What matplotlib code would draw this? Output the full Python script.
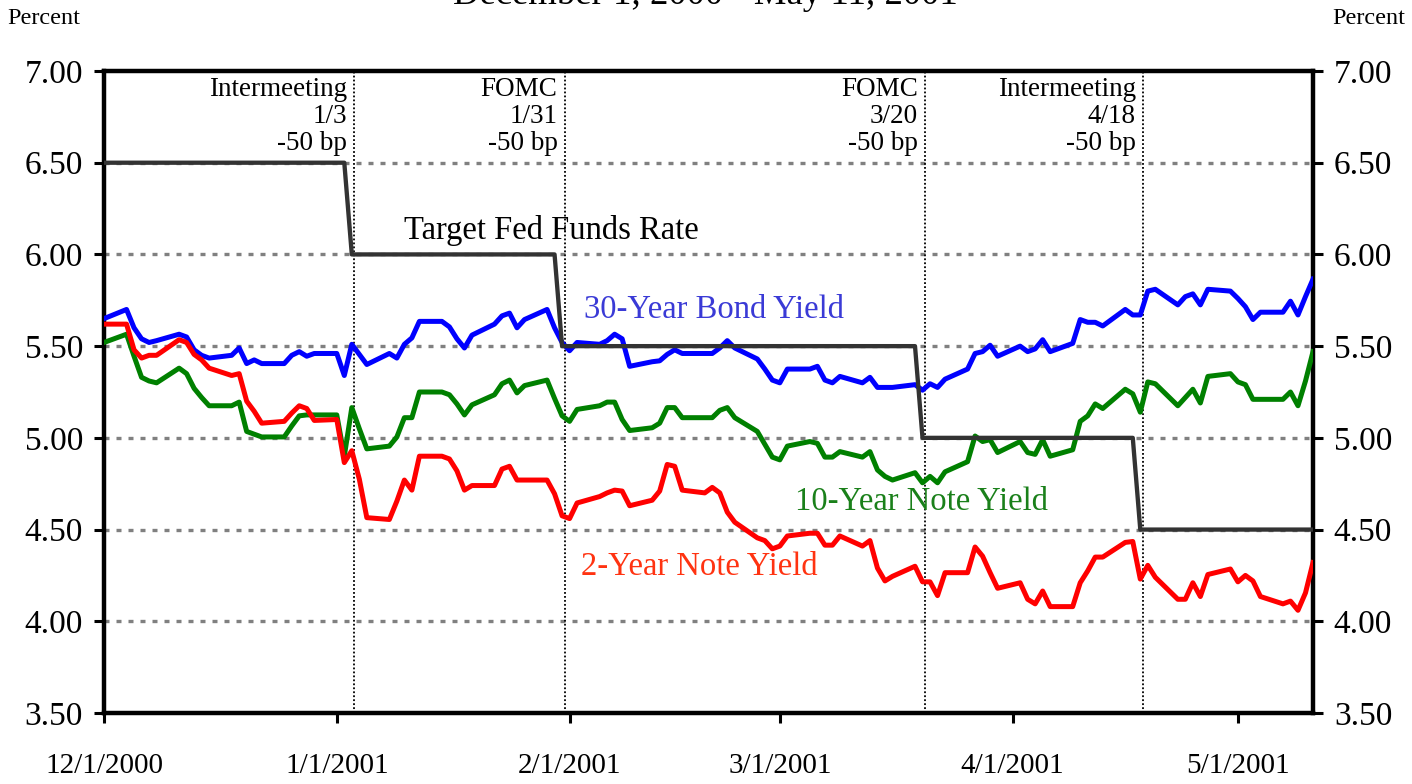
import numpy as np
import pandas as pd
import matplotlib
matplotlib.use('Agg')
import matplotlib.pyplot as plt
import matplotlib.dates as mdates

plt.rcParams['font.family'] = ['Liberation Serif', 'DejaVu Serif']

# trading days (holidays show as flat segments)
days = {
    (2000, 12): [1, 4, 5, 6, 7, 8, 11, 12, 13, 14, 15, 18, 19, 20, 21, 22, 25, 26, 27, 28, 29],
    (2001, 1): [1, 2, 3, 4, 5, 8, 9, 10, 11, 12, 15, 16, 17, 18, 19, 22, 23, 24, 25, 26, 29, 30, 31],
    (2001, 2): [1, 2, 5, 6, 7, 8, 9, 12, 13, 14, 15, 16, 19, 20, 21, 22, 23, 26, 27, 28],
    (2001, 3): [1, 2, 5, 6, 7, 8, 9, 12, 13, 14, 15, 16, 19, 20, 21, 22, 23, 26, 27, 28, 29, 30],
    (2001, 4): [2, 3, 4, 5, 6, 9, 10, 11, 12, 13, 16, 17, 18, 19, 20, 23, 24, 25, 26, 27, 30],
    (2001, 5): [1, 2, 3, 4, 7, 8, 9, 10, 11],
}
dates = [pd.Timestamp(y, m, d) for (y, m), dl in days.items() for d in dl]

bond30 = [5.65, 5.70, 5.60, 5.54, 5.52, 5.53, 5.565, 5.55, 5.48, 5.45, 5.435, 5.45, 5.49, 5.405, 5.425, 5.405, 5.405, 5.45, 5.47, 5.445, 5.46,
          5.46, 5.34, 5.51, 5.455, 5.40, 5.46, 5.435, 5.51, 5.545, 5.635, 5.635, 5.605, 5.54, 5.49, 5.56, 5.62, 5.665, 5.68, 5.60, 5.645, 5.70, 5.60, 5.52,
          5.475, 5.52, 5.51, 5.53, 5.565, 5.54, 5.39, 5.415, 5.42, 5.455, 5.48, 5.46, 5.46, 5.46, 5.49, 5.53, 5.49, 5.43, 5.375, 5.315,
          5.30, 5.375, 5.375, 5.39, 5.315, 5.30, 5.335, 5.30, 5.33, 5.275, 5.275, 5.275, 5.29, 5.26, 5.295, 5.275, 5.32, 5.375, 5.46, 5.47, 5.505, 5.445,
          5.50, 5.47, 5.485, 5.535, 5.47, 5.515, 5.645, 5.63, 5.63, 5.61, 5.70, 5.67, 5.67, 5.80, 5.81, 5.725, 5.77, 5.785, 5.725, 5.81, 5.80,
          5.76, 5.715, 5.645, 5.685, 5.685, 5.745, 5.67, 5.77, 5.865]

note10 = [5.52, 5.565, 5.445, 5.33, 5.31, 5.30, 5.38, 5.35, 5.27, 5.22, 5.175, 5.175, 5.195, 5.035, 5.02, 5.005, 5.005, 5.065, 5.12, 5.125, 5.125,
          5.125, 4.90, 5.165, 5.05, 4.94, 4.955, 5.005, 5.11, 5.11, 5.25, 5.25, 5.235, 5.185, 5.125, 5.18, 5.235, 5.295, 5.315, 5.245, 5.285, 5.315, 5.215, 5.12,
          5.09, 5.155, 5.175, 5.195, 5.195, 5.10, 5.04, 5.055, 5.08, 5.165, 5.165, 5.11, 5.11, 5.11, 5.15, 5.165, 5.11, 5.035, 4.965, 4.895,
          4.88, 4.955, 4.98, 4.97, 4.895, 4.895, 4.925, 4.895, 4.925, 4.825, 4.79, 4.77, 4.81, 4.755, 4.79, 4.755, 4.815, 4.87, 5.01, 4.98, 4.99, 4.92,
          4.98, 4.92, 4.91, 4.99, 4.90, 4.935, 5.09, 5.12, 5.185, 5.16, 5.265, 5.24, 5.14, 5.305, 5.295, 5.175, 5.22, 5.265, 5.19, 5.335, 5.35,
          5.305, 5.29, 5.21, 5.21, 5.21, 5.25, 5.175, 5.31, 5.47]

note2 = [5.62, 5.62, 5.48, 5.435, 5.45, 5.45, 5.535, 5.52, 5.455, 5.425, 5.38, 5.34, 5.35, 5.20, 5.145, 5.08, 5.09, 5.135, 5.175, 5.16, 5.095,
         5.10, 4.865, 4.93, 4.775, 4.565, 4.555, 4.655, 4.77, 4.715, 4.90, 4.90, 4.885, 4.82, 4.715, 4.74, 4.74, 4.83, 4.845, 4.77, 4.77, 4.77, 4.695, 4.575,
         4.56, 4.645, 4.68, 4.70, 4.715, 4.71, 4.63, 4.66, 4.71, 4.855, 4.845, 4.715, 4.70, 4.73, 4.70, 4.595, 4.54, 4.455, 4.44, 4.395,
         4.41, 4.465, 4.48, 4.48, 4.415, 4.415, 4.465, 4.41, 4.44, 4.29, 4.22, 4.245, 4.30, 4.215, 4.215, 4.14, 4.265, 4.265, 4.405, 4.355, 4.265, 4.18,
         4.21, 4.12, 4.095, 4.165, 4.08, 4.08, 4.21, 4.275, 4.35, 4.35, 4.43, 4.435, 4.23, 4.305, 4.24, 4.12, 4.12, 4.21, 4.135, 4.255, 4.285,
         4.215, 4.25, 4.22, 4.135, 4.095, 4.11, 4.06, 4.155, 4.32]

fed_dates = ['2000-12-01', '2001-01-02', '2001-01-03', '2001-01-30', '2001-01-31', '2001-03-19',
             '2001-03-20', '2001-04-17', '2001-04-18', '2001-05-11']
fed_rate = [6.5, 6.5, 6.0, 6.0, 5.5, 5.5, 5.0, 5.0, 4.5, 4.5]

moves = ['2001-01-03', '2001-01-31', '2001-03-20', '2001-04-18']
move_text = ['Intermeeting\n1/3\n-50 bp', 'FOMC\n1/31\n-50 bp', 'FOMC\n3/20\n-50 bp', 'Intermeeting\n4/18\n-50 bp']

xticks = ['2000-12-01', '2001-01-01', '2001-02-01', '2001-03-01', '2001-04-01', '2001-05-01']
xlabels = ['12/1/2000', '1/1/2001', '2/1/2001', '3/1/2001', '4/1/2001', '5/1/2001']
yticks = [3.5, 4.0, 4.5, 5.0, 5.5, 6.0, 6.5, 7.0]

fig = plt.figure(figsize=(14.12, 7.84), dpi=100)
ax = fig.add_axes([104/1412, 71/784, 1209/1412, 642/784])

for v in yticks[1:-1]:
    ax.axhline(v, color='#808080', lw=2.4, ls=(0, (1.5, 2.1)), zorder=1)
for d in moves:
    ax.axvline(pd.Timestamp(d) + pd.Timedelta(hours=8), color='black', lw=1.3, ls=(0, (1, 1.2)), zorder=1)

ax.plot(dates, bond30, color='#0000ff', lw=3.6, zorder=3)
ax.plot(dates, note10, color='#008000', lw=3.6, zorder=3)
ax.plot(dates, note2, color='#ff0000', lw=3.6, zorder=3)
ax.plot(pd.to_datetime(fed_dates), fed_rate, color='#333333', lw=3.1, zorder=4)

for d, t in zip(moves, move_text):
    ax.annotate(t, xy=(pd.Timestamp(d) + pd.Timedelta(hours=8), 7.0), xytext=(-5, -4), textcoords='offset points',
                ha='right', va='top', fontsize=19.5, linespacing=1.12)

ax.text(pd.Timestamp('2001-01-10'), 6.13, 'Target Fed Funds Rate', fontsize=23.5, color='black', va='center')
ax.text(pd.Timestamp('2001-02-02 22:00'), 5.70, '30-Year Bond Yield', fontsize=23.5, color='#3a3ad6', va='center')
ax.text(pd.Timestamp('2001-03-03'), 4.65, '10-Year Note Yield', fontsize=23.5, color='#1a801a', va='center')
ax.text(pd.Timestamp('2001-02-02 12:00'), 4.30, '2-Year Note Yield', fontsize=23.5, color='#ff3311', va='center')

ax.set_xlim(pd.Timestamp('2000-12-01'), pd.Timestamp('2001-05-11'))
ax.set_ylim(3.5, 7.0)
ax.set_yticks(yticks)
ax.set_yticklabels(['%.2f' % v for v in yticks])
ax.set_xticks(pd.to_datetime(xticks))
ax.set_xticklabels(xlabels)
ax.tick_params(axis='y', which='both', left=True, right=True, labelleft=True, labelright=True,
               direction='out', length=7, width=2.2, labelsize=24, pad=8)
ax.tick_params(axis='x', direction='out', length=7, width=2.2, labelsize=21, pad=22)
for s in ax.spines.values():
    s.set_linewidth(3.2)

fig.text(7/1412, 1 - 18/784, 'Percent', ha='left', va='center', fontsize=17.5)
fig.text(1405/1412, 1 - 18/784, 'Percent', ha='right', va='center', fontsize=17.5)
fig.text(705/1412, 1 - 4/784, 'December 1, 2000 - May 11, 2001', ha='center', va='baseline', fontsize=26.5)

fig.savefig('out.png', dpi=100)
